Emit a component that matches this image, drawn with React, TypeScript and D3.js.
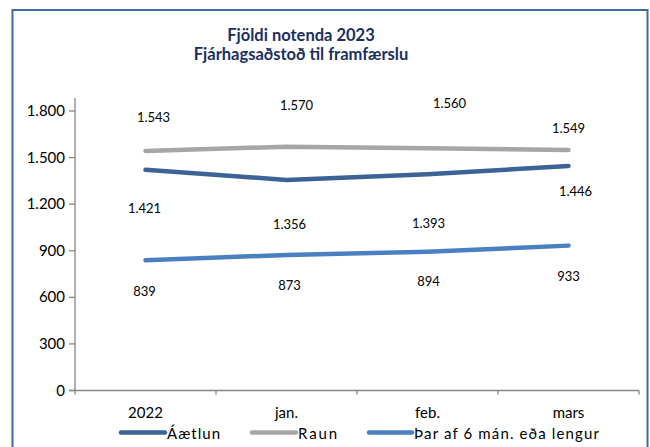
import React from "react";
import * as d3 from "d3";

const categories = ["2022", "jan.", "feb.", "mars"];
const aaetlun = [1421, 1356, 1393, 1446];
const raun = [1543, 1570, 1560, 1549];
const thar = [839, 873, 894, 933];
const seriesNames = ["Áætlun", "Raun", "Þar af 6 mán. eða lengur"];
const yTicks = [0, 300, 600, 900, 1200, 1500, 1800];
const titleLines = ["Fjöldi notenda 2023", "Fjárhagsaðstoð til framfærslu"];

// label offsets (layout, in px) per series/point
const labelOffsets = [
  [[-1, 38], [3, 44], [1, 49], [7, 25]],
  [[8, -34], [10, -42], [22, -45], [0, -22]],
  [[-1, 31], [3, 30], [1, 29], [0, 30]],
];

const colors = ["#3b6396", "#a6a6a6", "#4a7fc1"];
const font = "Lato, 'Open Sans', sans-serif";

const fmt = (v: number) => {
  const s = String(v);
  return s.length > 3 ? s.slice(0, s.length - 3) + "." + s.slice(-3) : s;
};

export default function App() {
  const W = 650, H = 447;
  const x0 = 75, x1 = 639, yBase = 390.5;
  const x = d3.scaleBand<string>().domain(categories).range([x0, x1]);
  const y = d3.scaleLinear().domain([0, 1800]).range([yBase, 111]);
  const yTop = 98;
  const data = [aaetlun, raun, thar];
  const line = d3
    .line<number>()
    .x((_, i) => (x(categories[i]) as number) + x.bandwidth() / 2)
    .y((d) => y(d));

  const legendItems = [
    { lx: 121, tx: 167, w: 53 },
    { lx: 252, tx: 298, w: 39 },
    { lx: 369, tx: 414, w: 185 },
  ];

  return (
    <svg width={W} height={H} style={{ position: "absolute", left: 0, top: 0, background: "#fff" }} fontFamily={font}>
      <rect x={12.5} y={10} width={635} height={445} fill="#fff" stroke="#3e6aa5" strokeWidth={2} />
      {titleLines.map((t, i) => (
        <text key={i} x={301} y={41 + i * 19} textAnchor="middle" fontSize={16.5} fontWeight="bold" fill="#1b2f5e">
          {t}
        </text>
      ))}
      {/* axes */}
      <line x1={x0} x2={x0} y1={yTop} y2={yBase + 4} stroke="#868686" strokeWidth={1.3} />
      <line x1={x0 - 6} x2={x1} y1={yBase} y2={yBase} stroke="#868686" strokeWidth={1.3} />
      {yTicks.map((t) => (
        <g key={t}>
          <line x1={x0 - 6} x2={x0} y1={y(t)} y2={y(t)} stroke="#868686" strokeWidth={1.3} />
          <text x={x0 - 10} y={y(t) + 5} textAnchor="end" fontSize={15} fill="#000">
            {fmt(t)}
          </text>
        </g>
      ))}
      {categories.map((c, i) => (
        <g key={c}>
          <line x1={(x(c) as number) + x.bandwidth()} x2={(x(c) as number) + x.bandwidth()} y1={yBase} y2={yBase + 4} stroke="#868686" strokeWidth={1.3} />
          <text x={(x(c) as number) + x.bandwidth() / 2} y={418} textAnchor="middle" fontSize={15} fill="#000">
            {c}
          </text>
        </g>
      ))}
      {/* lines */}
      {data.map((s, si) => (
        <path key={si} d={line(s) || ""} fill="none" stroke={colors[si]} strokeWidth={4.5} strokeLinecap="round" strokeLinejoin="round" />
      ))}
      {/* labels */}
      {data.map((s, si) =>
        s.map((v, i) => (
          <text
            key={si + "-" + i}
            x={(x(categories[i]) as number) + x.bandwidth() / 2 + labelOffsets[si][i][0]}
            y={y(v) + labelOffsets[si][i][1] + 5}
            textAnchor="middle"
            fontSize={13}
            fill="#000"
          >
            {fmt(v)}
          </text>
        ))
      )}
      {/* legend */}
      {legendItems.map((l, i) => (
        <g key={i}>
          <line x1={l.lx} x2={l.tx - 2} y1={432.5} y2={432.5} stroke={colors[i]} strokeWidth={4.5} strokeLinecap="round" />
          <text x={l.tx} y={439} fontSize={15} fill="#000" textLength={l.w} lengthAdjust="spacing">
            {seriesNames[i]}
          </text>
        </g>
      ))}
    </svg>
  );
}
